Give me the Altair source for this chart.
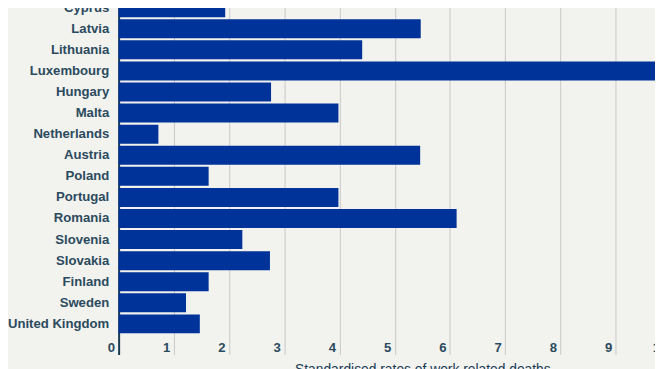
import altair as alt
import pandas as pd

countries = ["Cyprus", "Latvia", "Lithuania", "Luxembourg", "Hungary", "Malta",
             "Netherlands", "Austria", "Poland", "Portugal", "Romania", "Slovenia",
             "Slovakia", "Finland", "Sweden", "United Kingdom"]
rates = [1.93, 5.47, 4.41, 10.6, 2.76, 3.98,
         0.72, 5.46, 1.63, 3.98, 6.12, 2.24,
         2.74, 1.63, 1.22, 1.47]
x_ticks = [0, 1, 2, 3, 4, 5, 6, 7, 8, 9, 10, 11]

df = pd.DataFrame({"country": countries, "rate": rates})

label_color = "#2b4a5e"

chart = alt.Chart(df).mark_bar(color="#003399").encode(
    y=alt.Y("country:N", sort=countries,
            scale=alt.Scale(paddingInner=0.1, paddingOuter=1),
            axis=alt.Axis(title=None, ticks=False, labelPadding=10,
                          labelFont="Liberation Sans", labelFontSize=13.3,
                          labelFontWeight="bold", labelColor=label_color,
                          domainColor="#1a3b55", domainWidth=2, grid=False)),
    x=alt.X("rate:Q", scale=alt.Scale(domain=[0, 11], nice=False),
            axis=alt.Axis(title="Standardised rates of work related deaths",
                          values=x_ticks, format="d",
                          ticks=False, tickSize=0, domain=False,
                          labelAlign="right", labelBaseline="middle",
                          labelPadding=-7, labelOffset=-4, labelFlush=False,
                          labelFont="Liberation Sans", labelFontSize=13.3,
                          labelFontWeight="bold", labelColor=label_color,
                          gridColor="#c8c8c8", gridWidth=1,
                          titleFont="Liberation Sans", titleFontSize=14,
                          titleFontWeight="normal", titleColor="#1a3b55",
                          titleBaseline="top", titleY=8)),
).properties(
    width=615, height=382,
    autosize=alt.AutoSizeParams(type="none"),
    padding={"left": 112, "top": -33.5, "right": -72, "bottom": 12.5},
    background="#f2f2ee",
).configure_view(stroke=None)

chart.save("out.html", embed_options={"renderer": "svg", "actions": False})
